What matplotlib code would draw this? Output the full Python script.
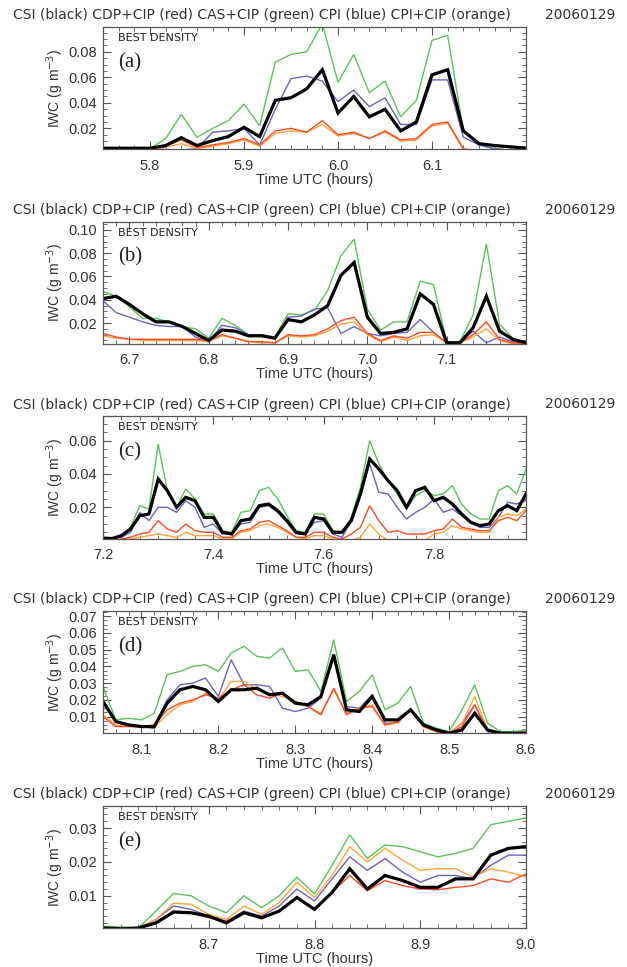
import numpy as np
import matplotlib
matplotlib.use("Agg")
import matplotlib.pyplot as plt
from matplotlib.ticker import MultipleLocator, FormatStrFormatter

plt.rcParams['font.family'] = ['Liberation Sans', 'DejaVu Sans']

# panel (a) 5.75 - 6.20 h, one value per minute
t_a = np.arange(345, 373) / 60.0
csi_a = [0.0044, 0.0044, 0.0044, 0.0044, 0.0065, 0.0127, 0.0065, 0.0104, 0.0135, 0.0208,
         0.0135, 0.042, 0.044, 0.051, 0.066, 0.032, 0.045, 0.029, 0.035, 0.018,
         0.025, 0.062, 0.066, 0.018, 0.008, 0.0065, 0.0055, 0.0045]
red_a = [0.002, 0.002, 0.002, 0.003, 0.006, 0.011, 0.005, 0.007, 0.009, 0.012,
         0.007, 0.018, 0.020, 0.017, 0.026, 0.015, 0.017, 0.012, 0.018, 0.011,
         0.012, 0.023, 0.025, 0.004, 0.002, 0.002, 0.002, 0.002]
green_a = [0.003, 0.003, 0.003, 0.004, 0.012, 0.031, 0.013, 0.020, 0.026, 0.039,
           0.022, 0.072, 0.078, 0.080, 0.102, 0.056, 0.078, 0.048, 0.057, 0.029,
           0.042, 0.089, 0.093, 0.018, 0.007, 0.004, 0.003, 0.003]
blue_a = [0.002, 0.002, 0.002, 0.002, 0.002, 0.003, 0.004, 0.017, 0.018, 0.020,
          0.007, 0.035, 0.059, 0.061, 0.057, 0.041, 0.050, 0.037, 0.044, 0.023,
          0.023, 0.058, 0.058, 0.013, 0.007, 0.004, 0.003, 0.003]
orange_a = [0.002, 0.002, 0.002, 0.002, 0.005, 0.008, 0.004, 0.006, 0.008, 0.011,
            0.006, 0.016, 0.018, 0.017, 0.023, 0.014, 0.016, 0.012, 0.017, 0.010,
            0.011, 0.022, 0.024, 0.003, 0.002, 0.002, 0.002, 0.002]

# panel (b) 6.667 - 7.20 h
t_b = np.arange(400, 433) / 60.0
csi_b = [0.041, 0.043, 0.036, 0.028, 0.021, 0.021, 0.017, 0.011, 0.005, 0.014,
         0.013, 0.009, 0.009, 0.007, 0.023, 0.021, 0.027, 0.035, 0.061, 0.072,
         0.025, 0.011, 0.012, 0.015, 0.045, 0.036, 0.003, 0.003, 0.016, 0.043,
         0.013, 0.006, 0.003]
red_b = [0.011, 0.008, 0.006, 0.006, 0.006, 0.006, 0.006, 0.006, 0.005, 0.010,
         0.007, 0.004, 0.004, 0.003, 0.010, 0.009, 0.010, 0.015, 0.022, 0.025,
         0.011, 0.005, 0.009, 0.007, 0.012, 0.012, 0.003, 0.003, 0.010, 0.021,
         0.006, 0.003, 0.002]
green_b = [0.047, 0.043, 0.034, 0.024, 0.024, 0.021, 0.017, 0.015, 0.007, 0.024,
           0.018, 0.010, 0.010, 0.008, 0.028, 0.027, 0.031, 0.048, 0.078, 0.092,
           0.032, 0.014, 0.021, 0.021, 0.056, 0.053, 0.004, 0.004, 0.027, 0.088,
           0.019, 0.007, 0.002]
blue_b = [0.039, 0.029, 0.025, 0.021, 0.018, 0.017, 0.017, 0.008, 0.004, 0.018,
          0.016, 0.010, 0.010, 0.007, 0.025, 0.026, 0.032, 0.033, 0.011, 0.017,
          0.011, 0.009, 0.011, 0.012, 0.023, 0.012, 0.003, 0.003, 0.013, 0.003,
          0.008, 0.004, 0.002]
orange_b = [0.009, 0.007, 0.006, 0.005, 0.005, 0.005, 0.005, 0.005, 0.004, 0.009,
            0.007, 0.004, 0.003, 0.003, 0.009, 0.008, 0.009, 0.013, 0.019, 0.021,
            0.010, 0.004, 0.008, 0.005, 0.009, 0.010, 0.003, 0.003, 0.008, 0.015,
            0.005, 0.002, 0.002]

# panel (c) 7.20 - 7.967 h
t_c = np.arange(432, 479) / 60.0
csi_c = [0.0015, 0.0013, 0.003, 0.007, 0.015, 0.016, 0.037, 0.030, 0.020, 0.026,
         0.024, 0.014, 0.014, 0.005, 0.004, 0.012, 0.013, 0.021, 0.022, 0.018,
         0.012, 0.005, 0.004, 0.014, 0.013, 0.005, 0.005, 0.012, 0.028, 0.049,
         0.043, 0.036, 0.030, 0.020, 0.030, 0.032, 0.024, 0.026, 0.022, 0.016,
         0.011, 0.009, 0.010, 0.018, 0.021, 0.018, 0.028]
red_c = [0.000, 0.000, 0.001, 0.002, 0.004, 0.005, 0.012, 0.007, 0.005, 0.010,
         0.006, 0.005, 0.005, 0.002, 0.002, 0.006, 0.007, 0.011, 0.012, 0.009,
         0.006, 0.002, 0.002, 0.005, 0.005, 0.002, 0.001, 0.004, 0.008, 0.021,
         0.012, 0.005, 0.006, 0.004, 0.004, 0.004, 0.006, 0.007, 0.013, 0.008,
         0.007, 0.006, 0.006, 0.012, 0.014, 0.012, 0.018]
green_c = [0.0015, 0.0013, 0.003, 0.008, 0.021, 0.019, 0.058, 0.030, 0.020, 0.031,
           0.025, 0.016, 0.016, 0.006, 0.005, 0.017, 0.018, 0.030, 0.032, 0.025,
           0.015, 0.006, 0.005, 0.016, 0.016, 0.006, 0.005, 0.014, 0.032, 0.060,
           0.046, 0.036, 0.028, 0.019, 0.027, 0.030, 0.027, 0.028, 0.033, 0.022,
           0.016, 0.013, 0.013, 0.030, 0.033, 0.028, 0.043]
blue_c = [0.0015, 0.0013, 0.002, 0.005, 0.017, 0.012, 0.020, 0.020, 0.017, 0.024,
          0.020, 0.008, 0.010, 0.004, 0.004, 0.010, 0.011, 0.020, 0.021, 0.017,
          0.011, 0.004, 0.004, 0.011, 0.012, 0.004, 0.002, 0.012, 0.028, 0.046,
          0.029, 0.028, 0.020, 0.013, 0.017, 0.020, 0.025, 0.017, 0.019, 0.015,
          0.011, 0.008, 0.008, 0.014, 0.023, 0.022, 0.024]
orange_c = [0.000, 0.000, 0.000, 0.001, 0.002, 0.003, 0.004, 0.003, 0.002, 0.005,
            0.003, 0.003, 0.003, 0.001, 0.001, 0.005, 0.006, 0.009, 0.010, 0.008,
            0.005, 0.002, 0.001, 0.003, 0.003, 0.001, 0.000, 0.000, 0.002, 0.010,
            0.004, 0.000, 0.000, 0.000, 0.000, 0.000, 0.004, 0.005, 0.009, 0.007,
            0.006, 0.005, 0.005, 0.014, 0.016, 0.015, 0.019]

# panel (d) 8.05 - 8.60 h
t_d = np.arange(483, 517) / 60.0
csi_d = [0.019, 0.007, 0.005, 0.004, 0.004, 0.018, 0.026, 0.028, 0.026, 0.019,
         0.026, 0.026, 0.027, 0.023, 0.024, 0.018, 0.017, 0.022, 0.047, 0.014,
         0.013, 0.022, 0.008, 0.008, 0.014, 0.005, 0.002, 0.000, 0.002, 0.012,
         0.002, 0.000, 0.000, 0.000]
red_d = [0.010, 0.004, 0.004, 0.004, 0.005, 0.014, 0.018, 0.020, 0.023, 0.021,
         0.026, 0.029, 0.023, 0.021, 0.024, 0.019, 0.016, 0.011, 0.027, 0.011,
         0.015, 0.016, 0.005, 0.007, 0.014, 0.004, 0.001, 0.000, 0.004, 0.017,
         0.002, 0.000, 0.000, 0.001]
green_d = [0.028, 0.008, 0.009, 0.008, 0.012, 0.035, 0.037, 0.040, 0.041, 0.037,
           0.048, 0.052, 0.046, 0.045, 0.051, 0.037, 0.038, 0.025, 0.056, 0.019,
           0.025, 0.035, 0.014, 0.018, 0.028, 0.006, 0.003, 0.001, 0.014, 0.029,
           0.006, 0.001, 0.001, 0.002]
blue_d = [0.020, 0.007, 0.005, 0.004, 0.003, 0.020, 0.029, 0.030, 0.033, 0.022,
          0.044, 0.029, 0.029, 0.028, 0.015, 0.013, 0.015, 0.021, 0.047, 0.016,
          0.015, 0.023, 0.006, 0.006, 0.014, 0.004, 0.002, 0.000, 0.006, 0.017,
          0.001, 0.000, 0.000, 0.001]
orange_d = [0.011, 0.005, 0.004, 0.004, 0.004, 0.011, 0.017, 0.019, 0.024, 0.020,
            0.031, 0.031, 0.026, 0.024, 0.022, 0.019, 0.016, 0.012, 0.026, 0.012,
            0.015, 0.017, 0.005, 0.006, 0.015, 0.004, 0.001, 0.000, 0.006, 0.022,
            0.002, 0.000, 0.000, 0.001]

# panel (e) 8.60 - 9.00 h
t_e = np.arange(516, 541) / 60.0
csi_e = [0.0005, 0.0003, 0.0005, 0.002, 0.0052, 0.005, 0.004, 0.002, 0.005, 0.0035,
         0.0055, 0.0095, 0.006, 0.011, 0.018, 0.012, 0.016, 0.0145, 0.0125, 0.0125,
         0.015, 0.015, 0.022, 0.024, 0.0245]
red_e = [0.0, 0.0, 0.0005, 0.002, 0.0055, 0.005, 0.0035, 0.0025, 0.005, 0.0035,
         0.0055, 0.0095, 0.006, 0.011, 0.016, 0.0115, 0.0145, 0.013, 0.012, 0.0118,
         0.0125, 0.013, 0.015, 0.014, 0.0165]
green_e = [0.001, 0.0008, 0.0005, 0.0055, 0.0107, 0.010, 0.007, 0.005, 0.010, 0.0065,
           0.010, 0.0155, 0.0105, 0.019, 0.028, 0.021, 0.025, 0.0245, 0.023, 0.0215,
           0.0225, 0.024, 0.031, 0.032, 0.033]
blue_e = [0.0, 0.0, 0.0005, 0.003, 0.007, 0.006, 0.004, 0.0025, 0.0055, 0.004,
          0.007, 0.012, 0.0085, 0.015, 0.0215, 0.0175, 0.021, 0.017, 0.014, 0.016,
          0.016, 0.015, 0.019, 0.022, 0.022]
orange_e = [0.0, 0.0, 0.0005, 0.003, 0.0078, 0.0075, 0.0045, 0.003, 0.007, 0.0045,
            0.008, 0.014, 0.0095, 0.016, 0.0245, 0.020, 0.024, 0.0205, 0.0175, 0.018,
            0.018, 0.0155, 0.018, 0.017, 0.0155]

# tick labels shown on each panel
xticks_a = [5.8, 5.9, 6.0, 6.1]
xticks_b = [6.7, 6.8, 6.9, 7.0, 7.1]
xticks_c = [7.2, 7.4, 7.6, 7.8]
xticks_d = [8.1, 8.2, 8.3, 8.4, 8.5, 8.6]
xticks_e = [8.7, 8.8, 8.9, 9.0]
yticks_a = [0.02, 0.04, 0.06, 0.08]
yticks_b = [0.02, 0.04, 0.06, 0.08, 0.10]
yticks_c = [0.02, 0.04, 0.06]
yticks_d = [0.01, 0.02, 0.03, 0.04, 0.05, 0.06, 0.07]
yticks_e = [0.01, 0.02, 0.03]

panels = [
    ("(a)", t_a, [csi_a, red_a, green_a, blue_a, orange_a], (5.75, 6.2), (0.0038, 0.0995), xticks_a, yticks_a, 1 / 60.0, 0.005),
    ("(b)", t_b, [csi_b, red_b, green_b, blue_b, orange_b], (6.6667, 7.2), (0.0022, 0.107), xticks_b, yticks_b, 1 / 60.0, 0.005),
    ("(c)", t_c, [csi_c, red_c, green_c, blue_c, orange_c], (7.2, 7.9667), (0.0013, 0.0745), xticks_c, yticks_c, 1 / 30.0, 0.005),
    ("(d)", t_d, [csi_d, red_d, green_d, blue_d, orange_d], (8.05, 8.6), (0.0, 0.073), xticks_d, yticks_d, 1 / 60.0, 0.0025),
    ("(e)", t_e, [csi_e, red_e, green_e, blue_e, orange_e], (8.6, 9.0), (0.0005, 0.0365), xticks_e, yticks_e, 1 / 60.0, 0.002),
]

# draw order: colours first, CSI on top
colors = ['black', '#ff4a26', '#5cc35c', '#6a63c4', '#ffa43a']
widths = [2.3, 1.0, 1.0, 1.0, 1.0]
order = [2, 3, 4, 1, 0]

title = "CSI (black) CDP+CIP (red) CAS+CIP (green) CPI (blue) CPI+CIP (orange)"
txtc = '#333333'

W, H = 627, 967
fig = plt.figure(figsize=(W / 100, H / 100), dpi=100)

for k, (lab, t, series, xl, yl, xt, yt, xmin_step, ymin_step) in enumerate(panels):
    top = 27 + k * 194.75
    ax = fig.add_axes([103 / W, 1 - (top + 122) / H, 423 / W, 122 / H])
    for j in order:
        ax.plot(t, series[j], color=colors[j], lw=widths[j], solid_joinstyle='miter')
    ax.set_xticks(xt)
    ax.set_yticks(yt)
    ax.xaxis.set_minor_locator(MultipleLocator(xmin_step))
    ax.yaxis.set_minor_locator(MultipleLocator(ymin_step))
    ax.xaxis.set_major_formatter(FormatStrFormatter('%.1f'))
    ax.yaxis.set_major_formatter(FormatStrFormatter('%.2f'))
    ax.set_xlim(*xl)
    ax.set_ylim(*yl)
    ax.tick_params(which='both', direction='in', top=True, right=True, color='#555555',
                   labelsize=10.5, labelcolor=txtc)
    ax.tick_params(which='major', length=6, width=0.8)
    ax.tick_params(which='minor', length=3, width=0.6)
    ax.tick_params(axis='x', pad=7)
    ax.tick_params(axis='y', pad=4)
    for s in ax.spines.values():
        s.set_color('#555555')
        s.set_linewidth(0.9)
    ax.set_xlabel("Time UTC (hours)", fontsize=10.5, color=txtc, labelpad=0)
    ax.set_ylabel("IWC (g m$^{-3}$)", fontsize=10, color=txtc, labelpad=2)
    ax.text(0.035, 0.91, "BEST DENSITY", transform=ax.transAxes, fontsize=8, color='#222222',
            family='DejaVu Sans', ha='left', va='center')
    ax.text(0.035, 0.71, lab, transform=ax.transAxes, fontsize=15, family='Liberation Serif',
            color='#222222', ha='left', va='center')
    fig.text(13 / W, 1 - (top - 12) / H, title, fontsize=10, family='DejaVu Sans', color=txtc,
             ha='left', va='center')
    fig.text(615 / W, 1 - (top - 12) / H, "20060129", fontsize=10, family='DejaVu Sans', color=txtc,
             ha='right', va='center')

fig.savefig("out.png", dpi=100)
